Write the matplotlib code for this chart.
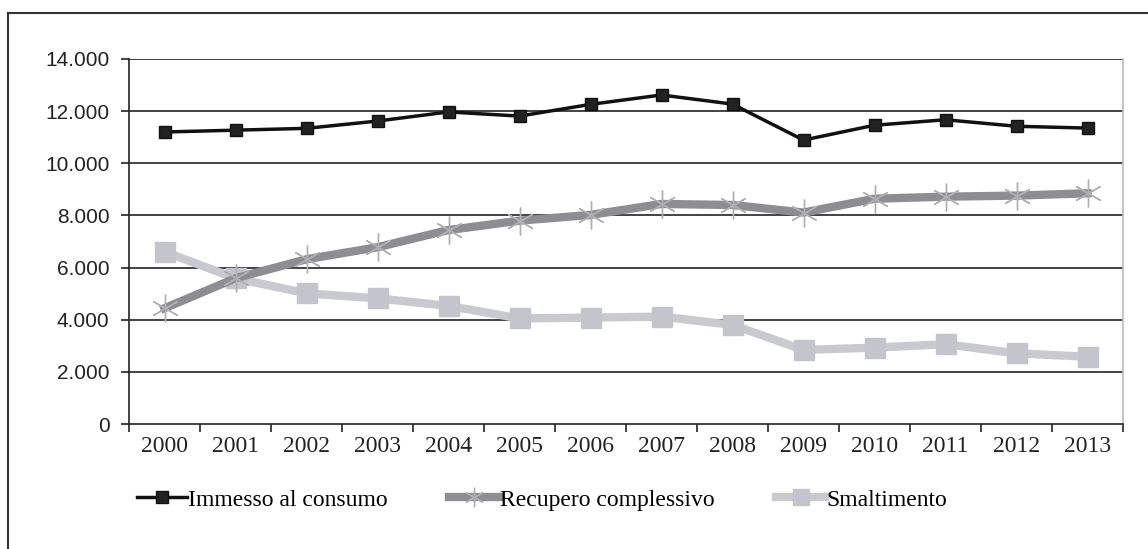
import matplotlib
matplotlib.use("Agg")
import matplotlib.pyplot as plt
from matplotlib.lines import Line2D

years = ["2000", "2001", "2002", "2003", "2004", "2005", "2006",
         "2007", "2008", "2009", "2010", "2011", "2012", "2013"]
immesso = [11200, 11270, 11340, 11620, 11970, 11810, 12260,
           12620, 12270, 10890, 11460, 11670, 11420, 11350]
recupero = [4440, 5590, 6320, 6780, 7440, 7800, 8020,
            8440, 8400, 8110, 8640, 8720, 8760, 8850]
smaltimento = [6610, 5590, 5010, 4820, 4530, 4050, 4080,
               4120, 3800, 2840, 2930, 3060, 2710, 2580]
y_ticks = [0, 2000, 4000, 6000, 8000, 10000, 12000, 14000]
y_labels = ["0", "2.000", "4.000", "6.000", "8.000", "10.000", "12.000", "14.000"]

W, H = 1148, 549
fig = plt.figure(figsize=(W / 100, H / 100), dpi=100)
ax = fig.add_axes([129 / W, 1 - 424 / H, (1123 - 129) / W, (424 - 59) / H])

x = list(range(len(years)))
ax.plot(x, smaltimento, color="#c9c9d0", lw=6, marker="s", ms=14,
        mfc="#c4c4cc", mec="#c4c4cc", zorder=3)
ax.plot(x, recupero, color="#8e8e92", lw=6, marker=(6, 2, 0), ms=20,
        mec="#b0b0b4", mew=1.0, zorder=4)
ax.plot(x, immesso, color="#111111", lw=2.5, marker="s", ms=9,
        mfc="#222222", mec="#111111", zorder=5)

ax.set_xlim(-0.5, len(years) - 0.5)
ax.set_ylim(0, 14000)
ax.set_yticks(y_ticks)
ax.set_yticklabels(y_labels, family="Liberation Sans", fontsize=15, color="#222222")
for yv in y_ticks[1:]:
    ax.axhline(yv, color="#111111", lw=1.1, zorder=1)

ax.set_xticks(x)
ax.set_xticklabels(years, family="Liberation Serif", fontsize=17, color="#222222")
ax.set_xticks([i - 0.5 for i in range(len(years) + 1)], minor=True)
ax.tick_params(axis="x", which="major", length=0, pad=9)
ax.tick_params(axis="x", which="minor", length=6, width=1.2, color="#222222")
ax.tick_params(axis="y", length=6, width=1.2, color="#222222", pad=8)

for s in ["left", "bottom"]:
    ax.spines[s].set_color("#222222")
    ax.spines[s].set_linewidth(1.2)
ax.spines["top"].set_visible(False)
ax.spines["right"].set_color("#bbbbbb")
ax.spines["right"].set_linewidth(1.2)

handles = [
    Line2D([], [], color="#111111", lw=2.5, marker="s", ms=9, mfc="#222222"),
    Line2D([], [], color="#8e8e92", lw=6, marker=(6, 2, 0), ms=14, mec="#b0b0b4"),
    Line2D([], [], color="#c9c9d0", lw=6, marker="s", ms=12, mfc="#c4c4cc", mec="#c4c4cc"),
]
fig.legend(handles, ["Immesso al consumo", "Recupero complessivo", "Smaltimento"],
           loc="center left", bbox_to_anchor=(116 / W, 1 - 500 / H), ncol=3,
           frameon=False, handlelength=2.1, handletextpad=0.05, columnspacing=2.6,
           prop={"family": "Liberation Serif", "size": 17})

fig.add_artist(Line2D([8 / W, 1], [1 - 13 / H, 1 - 13 / H], color="#333333", lw=1.5))
fig.add_artist(Line2D([8 / W, 8 / W], [0, 1 - 13 / H], color="#333333", lw=1.5))

fig.savefig("out.png", dpi=100)
